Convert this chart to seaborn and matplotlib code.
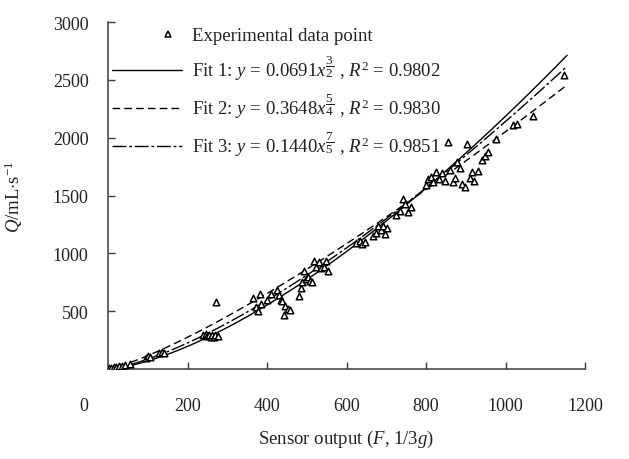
import numpy as np
import pandas as pd
import matplotlib
matplotlib.use("Agg")
import matplotlib.pyplot as plt
from matplotlib.lines import Line2D
from matplotlib.legend_handler import HandlerLine2D
import seaborn as sns

# ---------------- data ----------------
sensor_x = [3, 8, 14, 20, 27, 34, 42, 55,
            95, 100, 106, 128, 136, 142,
            240, 246, 250, 255, 258, 262, 266, 270, 276, 272,
            365, 372, 378, 383, 386, 400, 410,
            424, 430, 434, 438, 442, 446, 452, 458,
            480, 486, 489, 492, 497, 502, 507, 512, 517, 524, 530, 537, 543, 548, 553,
            625, 634, 640, 646, 667, 673, 680, 686, 693, 698, 703,
            725, 735, 741, 748, 755, 762,
            800, 806, 812, 818, 825, 832, 840, 848, 856, 861, 867, 873, 879, 885,
            891, 898, 904, 910, 916, 922, 930, 940, 948, 956, 976,
            1020, 1028, 1070, 1147]
flow_q = [8, 12, 16, 20, 26, 30, 36, 45,
          95, 112, 102, 140, 150, 135,
          290, 300, 282, 298, 280, 292, 276, 296, 282, 580,
          610, 540, 500, 645, 565, 600, 650,
          680, 640, 600, 590, 470, 545, 520, 510,
          630, 700, 750, 850, 780, 795, 760, 750, 935, 880, 925, 870, 880, 935, 850,
          1090, 1107, 1080, 1100, 1150, 1180, 1237, 1200, 1237, 1168, 1215,
          1330, 1367, 1470, 1427, 1358, 1400,
          1590, 1640, 1660, 1620, 1700, 1640, 1695, 1625, 1960, 1720, 1615, 1650, 1790, 1740,
          1600, 1575, 1945, 1650, 1700, 1625, 1710, 1810, 1840, 1880, 1990,
          2110, 2120, 2190, 2545]

fit_names = ["Fit 1", "Fit 2", "Fit 3"]
fit_coef = [0.0691, 0.3648, 0.135]      # coefficient of the drawn curve
fit_expo = [3 / 2, 5 / 4, 7 / 5]
fit_labels = [
    r"Fit 1: $y$ = 0.0691$x^{\dfrac{3}{2}}$ , $R^2$ = 0.9802",
    r"Fit 2: $y$ = 0.3648$x^{\dfrac{5}{4}}$ , $R^2$ = 0.9830",
    r"Fit 3: $y$ = 0.1440$x^{\dfrac{7}{5}}$ , $R^2$ = 0.9851",
]
data_label = "Experimental data point"
x_ticks = [200, 400, 600, 800, 1000, 1200]
y_ticks = [500, 1000, 1500, 2000, 2500, 3000]
x_max_curve = 1155

# ---------------- style ----------------
sns.set_style("ticks")
plt.rcParams["font.family"] = ["Liberation Serif", "DejaVu Serif"]
plt.rcParams["mathtext.fontset"] = "custom"
plt.rcParams["mathtext.rm"] = "Liberation Serif"
plt.rcParams["mathtext.it"] = "Liberation Serif:italic"
plt.rcParams["mathtext.bf"] = "Liberation Serif:bold"

ink = "#222222"
axis_col = "#3a3a3a"

df = pd.DataFrame({"F": sensor_x, "Q": flow_q})

xs = np.linspace(0, x_max_curve, 400)
fit_rows = []
for name, c, e in zip(fit_names, fit_coef, fit_expo):
    fit_rows.append(pd.DataFrame({"F": xs, "Q": c * xs ** e, "fit": name}))
fits = pd.concat(fit_rows, ignore_index=True)

dash_map = {"Fit 1": "", "Fit 2": (5.5, 3.0), "Fit 3": (10, 2, 2, 2)}

fig = plt.figure(figsize=(6.29, 4.60), dpi=100)
ax = fig.add_axes([108 / 629, 1 - 370 / 460, 477 / 629, 347 / 460])

sns.lineplot(data=fits, x="F", y="Q", style="fit", dashes=dash_map,
             color="black", linewidth=1.0, legend=False, ax=ax, sort=False,
             estimator=None)
sns.scatterplot(data=df, x="F", y="Q", marker="^", s=22, facecolor="white",
                edgecolor="black", linewidth=1.1, ax=ax, legend=False, zorder=3)

ax.set_xlim(0, 1200)
ax.set_ylim(0, 3000)
ax.set_xticks(x_ticks)
ax.set_yticks(y_ticks)
ax.set_xticklabels([str(t) for t in x_ticks])
ax.set_yticklabels([str(t) for t in y_ticks])
sns.despine(ax=ax)
for s in ["left", "bottom"]:
    ax.spines[s].set_color(axis_col)
    ax.spines[s].set_linewidth(1.1)

ax.tick_params(axis="both", direction="in", length=5, width=1.0,
               color=axis_col, labelsize=13, labelcolor=ink)
ax.tick_params(axis="x", pad=20)
ax.tick_params(axis="y", pad=14)

ax.text(-0.05, -0.104, "0", transform=ax.transAxes, ha="center", va="center",
        fontsize=13, color=ink)

ax.set_xlabel(r"Sensor output ($F$, 1/3$g$)", fontsize=13.5, color=ink)
ax.set_ylabel(r"$Q$/mL$\cdot$s$^{-1}$", fontsize=13.5, color=ink)
ax.xaxis.set_label_coords(0.5, -0.17)
ax.yaxis.set_label_coords(-0.175, 0.5)

# legend
h_data = Line2D([], [], linestyle="none", marker="^", markersize=5,
                markerfacecolor="white", markeredgecolor="black",
                markeredgewidth=1.1)
h_fits = []
for name in fit_names:
    d = dash_map[name]
    ln = Line2D([], [], color="black", linewidth=1.0)
    if d:
        ln.set_dashes(d)
    h_fits.append(ln)

leg = ax.legend([h_data] + h_fits, [data_label] + fit_labels,
                loc="upper left", bbox_to_anchor=(112 / 629, 1 - 28 / 460),
                bbox_transform=fig.transFigure, frameon=False, fontsize=13.5,
                handlelength=3.75, handletextpad=0.5, labelspacing=0.45,
                borderpad=0, borderaxespad=0,
                handler_map={h_data: HandlerLine2D(xpad=2.2)})
for t in leg.get_texts():
    t.set_color(ink)

fig.savefig("out.png", dpi=100)
